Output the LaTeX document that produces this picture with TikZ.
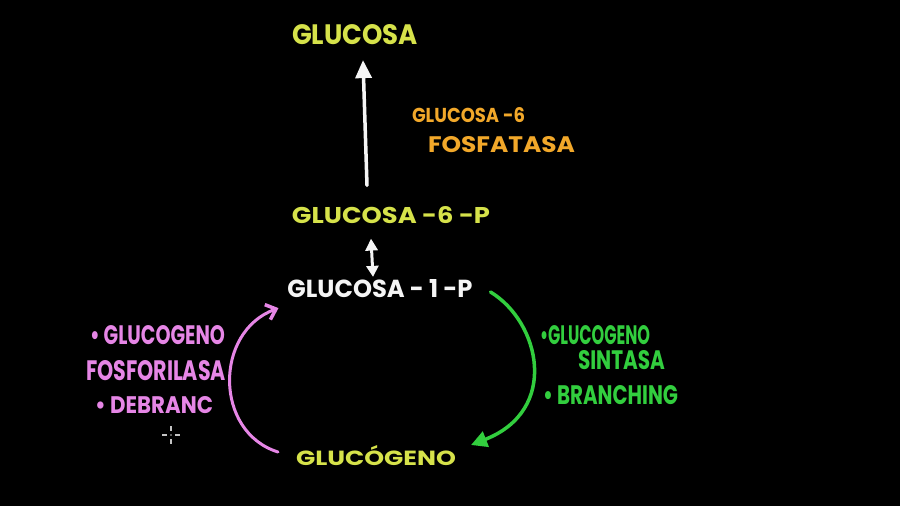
\documentclass[tikz,border=0pt]{standalone}
\usepackage{fontspec}
\setmainfont{Poppins}
\usetikzlibrary{arrows.meta,calc}
\definecolor{ylw}{RGB}{214,226,74}
\definecolor{org}{RGB}{242,168,42}
\definecolor{pnk}{RGB}{230,134,230}
\definecolor{grn}{RGB}{50,206,62}
\definecolor{wht}{RGB}{245,245,245}
\newcommand\fitbox[3]{\resizebox{#1pt}{#2pt}{\bfseries #3}}
\begin{document}
\begin{tikzpicture}[x=1pt,y=-1pt,
  every node/.style={inner sep=0pt,outer sep=0pt},
  yl/.style={text=ylw},
  og/.style={text=org},
  pk/.style={text=pnk},
  gn/.style={text=grn},
  wt/.style={text=wht},
  wline/.style={draw=wht,line width=3.5pt,line cap=round},
  pline/.style={draw=pnk,line width=3pt,line cap=round},
  gline/.style={draw=grn,line width=3.5pt,line cap=round}]
\fill[black] (0,0) rectangle (900,506);
\useasboundingbox (0,0) rectangle (900,506);
% main labels
\node[yl] (glu) at (355,35) {\fitbox{126}{20}{GLUCOSA}};
\node[og,anchor=west] (enz1) at (412,115.5) {\fitbox{113}{15}{GLUCOSA -6}};
\node[og,anchor=west] (enz2) at (428,145) {\fitbox{147}{16}{FOSFATASA}};
\node[yl] (g6p) at (391,215) {\fitbox{198}{17}{GLUCOSA -6 -P}};
\node[wt] (g1p) at (380,289) {\fitbox{185}{18}{GLUCOSA - 1 -P}};
\node[yl] (gcg) at (376,456) {\fitbox{160}{20}{GLUCÓGENO}};
% pink enzymes
\node[pk,anchor=west] (pk1) at (90,335) {\fitbox{135}{19}{\textbullet\ GLUCOGENO}};
\node[pk,anchor=west] (pk2) at (86,370.5) {\fitbox{140}{20}{FOSFORILASA}};
\node[pk,anchor=west] (pk3) at (95,405.5) {\fitbox{118}{17}{\textbullet\ DEBRANC}};
% green enzymes
\node[gn,anchor=west] (gn1) at (540,335) {\fitbox{110}{19}{\textbullet GLUCOGENO}};
\node[gn,anchor=west] (gn2) at (578,360) {\fitbox{87}{19}{SINTASA}};
\node[gn,anchor=west] (gn3) at (543,395) {\fitbox{135}{19}{\textbullet\ BRANCHING}};
% arrows
\draw[wline,-{Triangle[length=18pt,width=16pt]}]
  ($(g6p.north)+(-24,-21)$) -- ($(glu.south)+(8,15)$);
\draw[draw=wht,line width=3pt,{Triangle[length=12pt,width=12pt]}-{Triangle[length=11pt,width=12pt]}]
  ($(g6p.south)+(-20,15)$) -- ($(g1p.north)+(-7,-3)$);
\draw[gline,-{Triangle[length=16pt,width=16pt]}]
  ($(g1p.east)+(18,3)$) .. controls (540,322) and (560,410) .. ($(gcg.east)+(15,-11)$);
\draw[pline,-{Straight Barb[length=9pt,width=16pt,line width=3.5pt]}]
  ($(gcg.west)+(-18,-4)$) .. controls (214,432) and (214,332) .. ($(g1p.south west)+(-9,10)$);
% cursor
\draw[draw=wht!80!black,line width=1.2pt]
  (162,435) -- (167,435) (175,435) -- (180,435)
  (171,426) -- (171,431) (171,439) -- (171,444);
\fill[wht!80!black] (171,435) circle (0.8);
\end{tikzpicture}
\end{document}
